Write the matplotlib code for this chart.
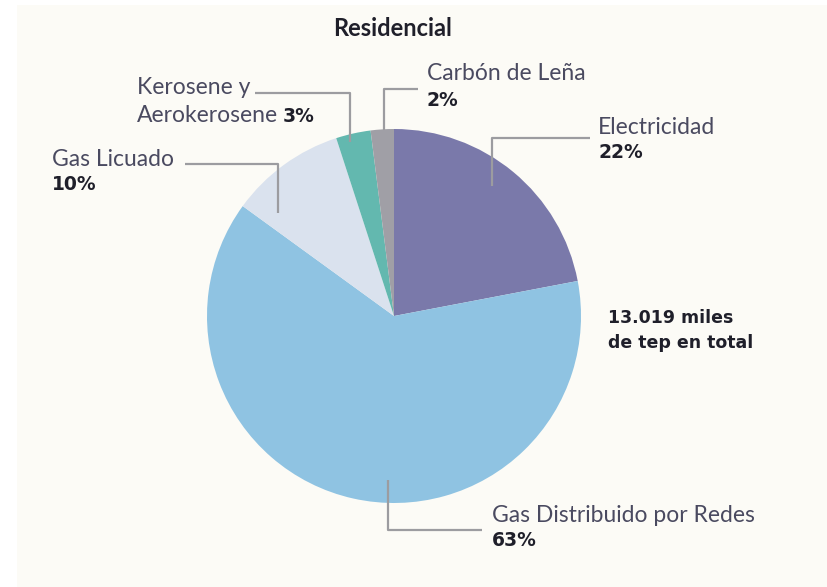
import matplotlib
matplotlib.use("Agg")
import matplotlib.pyplot as plt
from matplotlib.patches import Rectangle

# ---- data ----
categories = ["Electricidad", "Gas Distribuido por Redes", "Gas Licuado",
              "Kerosene y\nAerokerosene", "Carbón de Leña"]
shares = [22, 63, 10, 3, 2]
pct_labels = ["22%", "63%", "10%", "3%", "2%"]
colors = ["#7a79aa", "#8fc3e2", "#dae2ee", "#63b8af", "#a09fa6"]
title = "Residencial"
total_lines = ["13.019 miles", "de tep en total"]

W, H = 827, 587
fig = plt.figure(figsize=(W / 100, H / 100), dpi=100)
fig.patch.set_facecolor("white")
ax = fig.add_axes([0, 0, 1, 1])

def P(x, y):
    return x, H - y

# background panel
ax.add_patch(Rectangle(P(17, H), W - 17, H - 5, facecolor="#fcfbf6",
                       edgecolor="none", zorder=0))

cx, cy = P(394, 316)
ax.pie(shares, colors=colors, startangle=90, counterclock=False,
       center=(cx, cy), radius=187, wedgeprops=dict(linewidth=0),
       frame=True)
ax.set_xlim(0, W)
ax.set_ylim(0, H)
ax.set_aspect("equal")
ax.axis("off")

lc = "#9c9ca0"
lw = 1.6
txt_c = "#4a4a60"
pct_c = "#1f1f2a"
fam = ["Lato", "DejaVu Sans"]
pfam = ["DejaVu Sans"]
fs = 16.5
pfs = 13.5

def line(pts):
    xs, ys = zip(*[P(*p) for p in pts])
    ax.plot(xs, ys, color=lc, lw=lw, solid_capstyle="butt", zorder=5)

def label(x, y, s):
    ax.text(*P(x, y), s, fontsize=fs, family=fam, color=txt_c, va="center", ha="left")

def pct(x, y, s):
    ax.text(*P(x, y), s, fontsize=pfs, family=pfam, weight="bold", color=pct_c,
            va="center", ha="left")

# Electricidad
line([(492, 186), (492, 138), (590, 138)])
label(598, 127, categories[0])
pct(598, 152, pct_labels[0])

# Gas Distribuido
line([(388, 480), (388, 530), (482, 530)])
label(492, 515, categories[1])
pct(492, 541, pct_labels[1])

# Gas Licuado
line([(278, 213), (278, 164), (185, 164)])
label(52, 159, categories[2])
pct(52, 185, pct_labels[2])

# Kerosene
k1, k2 = categories[3].split("\n")
line([(350, 142), (350, 93), (255, 93)])
label(137, 87, k1)
label(137, 115, k2)
pct(283, 116, pct_labels[3])

# Carbon
line([(384, 130), (384, 89), (418, 89)])
label(427, 74, categories[4])
pct(427, 100, pct_labels[4])

# total
ax.text(*P(608, 318), total_lines[0], fontsize=12.5, family=pfam, weight="bold",
        color=pct_c, va="center", ha="left")
ax.text(*P(608, 343), total_lines[1], fontsize=12.5, family=pfam, weight="bold",
        color=pct_c, va="center", ha="left")

# title
ax.text(*P(393, 28), title, fontsize=17, family=fam, weight="bold", color=pct_c,
        va="center", ha="center")

fig.savefig("out.png", dpi=100, facecolor="white")
